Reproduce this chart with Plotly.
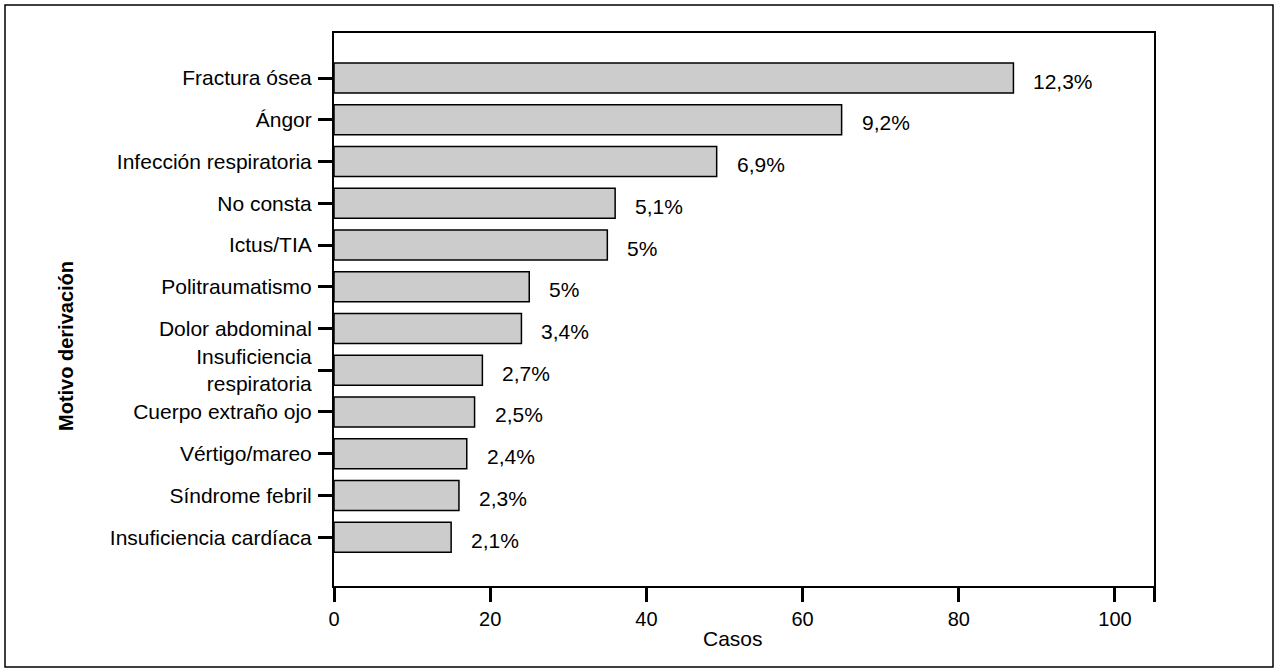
import plotly.graph_objects as go

categories = [
    "Fractura ósea", "Ángor", "Infección respiratoria", "No consta", "Ictus/TIA",
    "Politraumatismo", "Dolor abdominal", "Insuficiencia<br>respiratoria",
    "Cuerpo extraño ojo", "Vértigo/mareo", "Síndrome febril", "Insuficiencia cardíaca",
]
cases = [87, 65, 49, 36, 35, 25, 24, 19, 18, 17, 16, 15]
pct_labels = ["12,3%", "9,2%", "6,9%", "5,1%", "5%", "5%", "3,4%", "2,7%", "2,5%", "2,4%", "2,3%", "2,1%"]
x_tickvals = [0, 20, 40, 60, 80, 100, 105]
x_ticktext = ["0", "20", "40", "60", "80", "100", ""]

FONT = "Liberation Sans, Arial, Helvetica, sans-serif"
FS = 21

fig = go.Figure(go.Bar(
    x=cases, y=categories, orientation="h", width=0.72,
    marker=dict(color="#cccccc", line=dict(color="black", width=1.5)),
    hoverinfo="skip",
))

L, R, T, B = 334, 126, 33, 86
W, H = 1280, 672
pw, ph = W - L - R, H - T - B

for c, v, t in zip(categories, cases, pct_labels):
    fig.add_annotation(x=v, y=c, text=t, showarrow=False, xanchor="left", yanchor="middle",
                       xshift=18, yshift=-3, font=dict(family=FONT, size=FS, color="black"))

fig.add_annotation(x=(733 - L) / pw, y=(H - B - 638) / ph, xref="paper", yref="paper",
                   xanchor="center", yanchor="middle",
                   text="Casos", showarrow=False, font=dict(family=FONT, size=FS, color="black"))
fig.add_annotation(x=(66 - L) / pw, y=(H - B - 346) / ph, xref="paper", yref="paper",
                   xanchor="center", yanchor="middle",
                   text="<b>Motivo derivación</b>", textangle=-90, showarrow=False,
                   font=dict(family=FONT, size=20, color="black"))

fig.add_shape(type="rect", xref="paper", yref="paper",
              x0=(5 - L) / pw, x1=(1273 - L) / pw,
              y0=(H - B - 667) / ph, y1=(H - B - 5) / ph,
              line=dict(color="black", width=1.5))

fig.update_layout(
    width=W, height=H,
    margin=dict(l=L, r=R, t=T, b=B),
    paper_bgcolor="white", plot_bgcolor="white",
    showlegend=False,
    font=dict(family=FONT, size=FS, color="black"),
    xaxis=dict(range=[0, 105], tickvals=x_tickvals, ticktext=x_ticktext,
               showgrid=False, zeroline=False, showline=True, linecolor="black",
               linewidth=2, mirror=True, ticks="outside", ticklen=14, tickwidth=3,
               tickcolor="black", tickfont=dict(family=FONT, size=20)),
    yaxis=dict(type="category", range=[12.17, -1.08], showgrid=False, zeroline=False,
               showline=True, linecolor="black", linewidth=2, mirror=True,
               ticks="outside", ticklen=14, tickwidth=3, tickcolor="black",
               ticklabelstandoff=2, tickfont=dict(family=FONT, size=FS)),
)

fig.write_html("out.html", config={"displayModeBar": False},
               post_script="document.body.style.margin='0px';document.body.style.overflow='hidden';")
